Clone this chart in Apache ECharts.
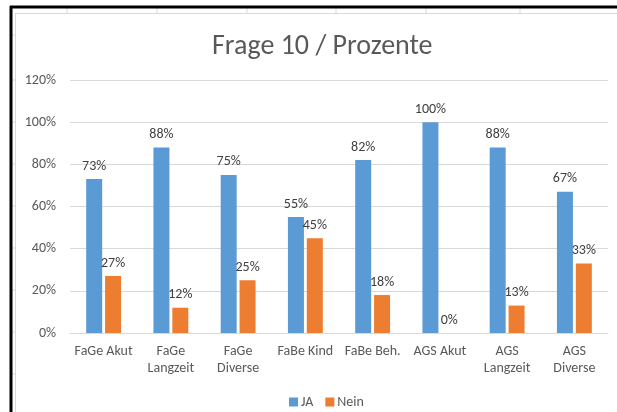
<!DOCTYPE html>
<html>
<head>
<meta charset="utf-8">
<script src="https://cdn.jsdelivr.net/npm/echarts@6/dist/echarts.min.js"></script>
<style>
  html, body { margin: 0; padding: 0; background: #fff; }
  #chart { width: 617px; height: 412px; }
</style>
</head>
<body>
<div id="chart"></div>
<script>
const categories = ['FaGe Akut', 'FaGe\nLangzeit', 'FaGe\nDiverse', 'FaBe Kind', 'FaBe Beh.', 'AGS Akut', 'AGS\nLangzeit', 'AGS\nDiverse'];
const jaValues = [73, 88, 75, 55, 82, 100, 88, 67];
const neinValues = [27, 12, 25, 45, 18, 0, 13, 33];
const seriesNames = ['JA', 'Nein'];

const textColor = '#595959';
const font = 'Calibri, Carlito, "Liberation Sans", sans-serif';

// Tabellen-Gitter rund um das Diagramm (Excel-Screenshot)
const sheetLines = [];
[67, 157, 247, 336, 426, 520].forEach(x => {
  sheetLines.push({ type: 'line', shape: { x1: x, y1: 8, x2: x, y2: 13 }, style: { stroke: '#d9d9d9', lineWidth: 1 } });
});
[35, 80, 122, 164, 206, 248, 290, 332, 374].forEach(y => {
  sheetLines.push({ type: 'line', shape: { x1: 12, y1: y, x2: 15, y2: y }, style: { stroke: '#d9d9d9', lineWidth: 1 } });
});

const chart = echarts.init(document.getElementById('chart'));
chart.setOption({
  backgroundColor: '#fff',
  animation: false,
  textStyle: { fontFamily: font },
  title: {
    text: 'Frage 10 / Prozente',
    left: 207,
    top: 28,
    textStyle: { fontFamily: font, fontSize: 28, fontWeight: 'normal', color: textColor }
  },
  legend: {
    data: seriesNames,
    left: 284,
    top: 390,
    itemWidth: 9,
    itemHeight: 9,
    itemGap: 12,
    icon: 'rect',
    textStyle: { fontFamily: font, fontSize: 14, color: textColor, padding: [0, 0, 0, -2] }
  },
  grid: { left: 70, right: 9, top: 80, bottom: 79 },
  xAxis: {
    type: 'category',
    data: categories,
    axisLine: { lineStyle: { color: '#d9d9d9' } },
    axisTick: { show: false },
    axisLabel: { color: textColor, fontSize: 14, lineHeight: 17, margin: 10, interval: 0 }
  },
  yAxis: {
    type: 'value',
    min: 0,
    max: 120,
    interval: 20,
    axisLine: { show: false },
    axisTick: { show: false },
    splitLine: { lineStyle: { color: '#d9d9d9' } },
    axisLabel: { formatter: '{value}%', color: textColor, fontSize: 14, margin: 14 }
  },
  series: [
    {
      name: seriesNames[0],
      type: 'bar',
      data: jaValues,
      barWidth: 16,
      barGap: '18%',
      itemStyle: { color: '#5b9bd5' },
      label: { show: true, position: 'top', distance: 6, formatter: '{c}%', color: '#404040', fontSize: 14 }
    },
    {
      name: seriesNames[1],
      type: 'bar',
      data: neinValues,
      barWidth: 16,
      itemStyle: { color: '#ed7d31' },
      label: { show: true, position: 'top', distance: 6, formatter: '{c}%', color: '#404040', fontSize: 14 }
    }
  ],
  graphic: [
    ...sheetLines,
    { type: 'line', shape: { x1: 15, y1: 13.5, x2: 617, y2: 13.5 }, style: { stroke: '#d9d9d9', lineWidth: 1 } },
    { type: 'line', shape: { x1: 15.5, y1: 13, x2: 15.5, y2: 412 }, style: { stroke: '#d9d9d9', lineWidth: 1 } },
    { type: 'line', shape: { x1: 10, y1: 7, x2: 617, y2: 7 }, style: { stroke: '#000', lineWidth: 3 } },
    { type: 'line', shape: { x1: 11, y1: 6, x2: 11, y2: 412 }, style: { stroke: '#000', lineWidth: 3 } }
  ]
});
</script>
</body>
</html>
